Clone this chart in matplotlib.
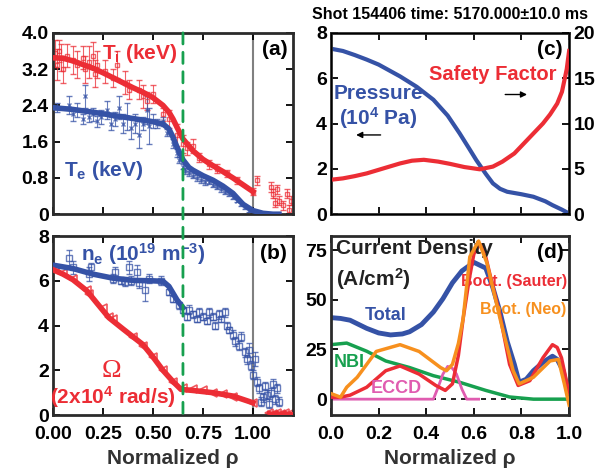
import matplotlib
matplotlib.use("Agg")
import matplotlib.pyplot as plt
from matplotlib.patches import ConnectionPatch

plt.rcParams['font.family'] = ['Liberation Sans', 'DejaVu Sans']
plt.rcParams['font.weight'] = 'bold'
plt.rcParams['axes.labelweight'] = 'bold'
plt.rcParams['axes.titleweight'] = 'bold'
plt.rcParams['mathtext.fontset'] = 'custom'
plt.rcParams['mathtext.rm'] = 'Liberation Sans:bold'
plt.rcParams['mathtext.it'] = 'Liberation Sans:bold'
plt.rcParams['mathtext.bf'] = 'Liberation Sans:bold'
plt.rcParams['mathtext.default'] = 'rm'

RED = '#ec2d35'
BLUE = '#3552a6'
GREEN = '#17a04f'
ORANGE = '#f7901e'
MAGENTA = '#e05cb0'
GRAY = '#2b2b2b'

# ---- panel (a): temperatures ----
ti_rho = [0.01, 0.02, 0.03, 0.04, 0.05, 0.07, 0.10, 0.12, 0.15, 0.16, 0.18, 0.20, 0.21, 0.22,
          0.26, 0.30, 0.32, 0.36, 0.38, 0.43, 0.45, 0.47, 0.50, 0.55, 0.58, 0.62, 0.65, 0.67,
          0.70, 0.73, 0.78, 0.82, 0.87, 0.92, 1.00, 1.02, 1.09, 1.10, 1.11, 1.12, 1.13, 1.15,
          1.17, 1.18, 1.19]
ti_val = [3.55, 3.30, 3.60, 3.45, 3.20, 3.50, 3.40, 3.30, 3.45, 3.20, 3.35, 3.50, 3.10, 3.30,
          3.15, 3.00, 3.30, 2.90, 2.75, 2.75, 2.60, 2.50, 2.65, 2.20, 2.10, 1.75, 1.55, 1.45,
          1.50, 1.25, 1.10, 1.00, 0.90, 0.75, 0.50, 0.75, 0.60, 0.45, 0.25, 0.55, 0.30, 0.20,
          0.45, 0.10, 0.30]
ti_err = [0.30, 0.35, 0.25, 0.30, 0.30, 0.25, 0.30, 0.30, 0.25, 0.30, 0.35, 0.30, 0.30, 0.30,
          0.25, 0.20, 0.30, 0.25, 0.20, 0.20, 0.25, 0.20, 0.20, 0.15, 0.20, 0.25, 0.20, 0.15,
          0.15, 0.10, 0.10, 0.10, 0.08, 0.08, 0.08, 0.10, 0.10, 0.10, 0.10, 0.10, 0.10, 0.10,
          0.10, 0.10, 0.10]
ti_fit_rho = [0.0, 0.05, 0.10, 0.15, 0.20, 0.25, 0.30, 0.35, 0.40, 0.45, 0.50, 0.55, 0.58, 0.60,
              0.62, 0.65, 0.70, 0.75, 0.80, 0.85, 0.90, 0.95, 1.00]
ti_fit = [3.45, 3.44, 3.38, 3.30, 3.22, 3.12, 3.01, 2.90, 2.79, 2.69, 2.57, 2.40, 2.25, 2.10,
          1.92, 1.66, 1.40, 1.21, 1.07, 0.94, 0.80, 0.65, 0.50]

te_rho = [0.02, 0.08, 0.10, 0.12, 0.15, 0.16, 0.18, 0.20, 0.22, 0.24, 0.27, 0.29, 0.31, 0.33,
          0.35, 0.37, 0.39, 0.41, 0.43, 0.45, 0.47, 0.48, 0.50, 0.52, 0.55, 0.57, 0.60, 0.62,
          0.63, 0.65, 0.66, 0.68, 0.70, 0.72, 0.74, 0.76, 0.78, 0.80, 0.82, 0.84, 0.86, 0.88,
          0.90, 0.92, 0.94, 0.96, 0.98, 1.00, 1.03, 1.06, 1.09, 1.12]
te_val = [2.35, 2.40, 2.20, 2.30, 2.10, 2.60, 2.15, 2.20, 2.05, 2.15, 2.30, 2.00, 2.10, 2.35,
          2.00, 2.15, 1.90, 2.00, 1.75, 2.00, 2.30, 1.95, 2.05, 2.00, 2.05, 1.80, 1.55, 1.35,
          1.20, 1.05, 0.95, 0.90, 0.85, 0.80, 0.75, 0.70, 0.72, 0.65, 0.60, 0.55, 0.50, 0.45,
          0.38, 0.30, 0.22, 0.15, 0.08, 0.05, 0.03, 0.02, 0.01, 0.00]
te_err = [0.10, 0.20, 0.15, 0.15, 0.10, 0.25, 0.12, 0.15, 0.12, 0.15, 0.20, 0.15, 0.15, 0.25,
          0.20, 0.30, 0.25, 0.20, 0.30, 0.15, 0.30, 0.40, 0.15, 0.10, 0.10, 0.08, 0.10, 0.08,
          0.06, 0.06, 0.06, 0.06, 0.06, 0.06, 0.06, 0.06, 0.06, 0.05, 0.05, 0.05, 0.05, 0.05,
          0.05, 0.04, 0.04, 0.03, 0.03, 0.03, 0.02, 0.02, 0.02, 0.02]
te_fit_rho = [0.0, 0.10, 0.20, 0.30, 0.40, 0.50, 0.55, 0.58, 0.60, 0.62, 0.65, 0.68, 0.70,
              0.75, 0.80, 0.85, 0.90, 0.95, 1.00, 1.05, 1.10, 1.13]
te_fit = [2.35, 2.31, 2.25, 2.18, 2.11, 2.04, 1.99, 1.88, 1.70, 1.48, 1.20, 1.03, 0.97,
          0.85, 0.75, 0.62, 0.46, 0.22, 0.08, 0.02, 0.0, 0.0]

# ---- panel (b): density and rotation ----
ne_rho = [0.08, 0.10, 0.18, 0.19, 0.30, 0.31, 0.34, 0.36, 0.38, 0.39, 0.42, 0.43, 0.46, 0.48,
          0.54, 0.58, 0.60, 0.63, 0.65, 0.67, 0.68, 0.70, 0.72, 0.73, 0.75, 0.77, 0.78, 0.80,
          0.81, 0.83, 0.84, 0.86, 0.87, 0.88, 0.90, 0.91, 0.93, 0.94, 0.96, 0.97, 0.98, 0.99,
          1.00, 1.01, 1.02, 1.03, 1.04, 1.05, 1.06, 1.07, 1.08, 1.09, 1.10, 1.11, 1.12, 1.13]
ne_val = [7.0, 6.6, 6.3, 6.6, 6.1, 6.4, 6.0, 5.95, 6.6, 6.0, 6.4, 5.9, 5.6, 6.1,
          6.0, 5.5, 5.2, 4.9, 4.7, 4.4, 4.7, 4.5, 4.3, 4.6, 4.4, 4.2, 4.6, 4.4,
          4.0, 4.5, 4.3, 4.6, 4.0, 3.8, 3.6, 3.3, 3.1, 3.5, 2.8, 2.5, 2.9, 2.2,
          1.8, 2.5, 1.5, 1.2, 0.6, 0.8, 1.3, 0.9, 0.5, 1.0, 1.4, 0.7, 1.2, 0.6]
ne_err = [0.4, 0.3, 0.3, 0.2, 0.2, 0.2, 0.15, 0.2, 0.3, 0.2, 0.3, 0.2, 0.5, 0.2,
          0.2, 0.15, 0.15, 0.15, 0.15, 0.15, 0.2, 0.15, 0.15, 0.2, 0.15, 0.15, 0.2, 0.15,
          0.15, 0.2, 0.15, 0.2, 0.15, 0.15, 0.2, 0.2, 0.2, 0.2, 0.2, 0.2, 0.3, 0.2,
          0.2, 0.3, 0.2, 0.2, 0.2, 0.2, 0.2, 0.2, 0.2, 0.2, 0.2, 0.2, 0.2, 0.2]
ne_fit_rho = [0.0, 0.10, 0.20, 0.30, 0.40, 0.50, 0.55, 0.58, 0.60, 0.62, 0.65]
ne_fit = [6.70, 6.55, 6.30, 6.12, 6.02, 6.00, 5.98, 5.75, 5.45, 5.15, 4.80]

om_rho = [0.01, 0.05, 0.10, 0.17, 0.18, 0.25, 0.28, 0.30, 0.40, 0.45, 0.50, 0.55, 0.60, 0.65,
          0.70, 0.75, 0.80, 0.85, 0.90, 1.00, 1.08, 1.10, 1.12, 1.14, 1.16, 1.18, 1.20]
om_val = [6.5, 6.35, 6.1, 5.6, 5.4, 4.8, 4.4, 4.3, 3.5, 3.1, 2.6, 2.0, 1.5, 1.2,
          1.15, 1.1, 1.0, 0.95, 0.8, 0.55, 0.1, 0.05, 0.1, 0.05, 0.1, 0.05, 0.05]
om_fit_rho = [0.0, 0.05, 0.10, 0.17, 0.22, 0.28, 0.35, 0.45, 0.50, 0.55, 0.60, 0.64, 0.70,
              0.80, 0.90, 1.00]
om_fit = [6.50, 6.30, 6.05, 5.55, 5.00, 4.35, 3.85, 3.15, 2.60, 2.00, 1.50, 1.15, 1.10,
          1.00, 0.85, 0.55]

# ---- panel (c): pressure and safety factor ----
p_rho = [0.0, 0.05, 0.10, 0.15, 0.20, 0.29, 0.36, 0.43, 0.49, 0.54, 0.58, 0.61, 0.65, 0.68,
         0.71, 0.74, 0.80, 0.85, 0.90, 0.93, 0.97, 1.00]
p_val = [7.30, 7.20, 7.02, 6.82, 6.60, 6.08, 5.62, 5.05, 4.35, 3.57, 2.90, 2.39, 1.78, 1.36,
         1.12, 0.99, 0.88, 0.77, 0.57, 0.40, 0.20, 0.03]
q_rho = [0.0, 0.05, 0.10, 0.15, 0.22, 0.29, 0.34, 0.39, 0.45, 0.50, 0.56, 0.625, 0.68, 0.72,
         0.77, 0.81, 0.85, 0.89, 0.92, 0.95, 0.97, 0.99, 1.00]
q_val = [3.8, 3.95, 4.2, 4.5, 5.05, 5.6, 5.9, 6.0, 5.8, 5.55, 5.2, 4.95, 5.25, 5.8,
         6.7, 7.8, 8.9, 10.0, 11.0, 12.2, 13.5, 16.0, 18.0]

# ---- panel (d): current density ----
tot_rho = [0.0, 0.04, 0.08, 0.15, 0.20, 0.25, 0.30, 0.33, 0.38, 0.43, 0.47, 0.51, 0.55, 0.60,
           0.65, 0.68, 0.71, 0.74, 0.77, 0.79, 0.82, 0.85, 0.89, 0.93, 0.95, 0.975, 1.0]
tot_val = [41.0, 40.6, 39.7, 35.6, 33.3, 32.3, 32.8, 33.9, 37.5, 43.8, 50.5, 58.5, 64.5, 68.8,
           65.9, 56.0, 43.8, 29.0, 17.5, 8.5, 10.0, 14.3, 18.5, 21.6, 20.0, 14.3, 0.3]
sau_rho = [0.0, 0.04, 0.08, 0.15, 0.23, 0.29, 0.37, 0.44, 0.48, 0.51, 0.535, 0.555, 0.58, 0.60,
           0.625, 0.645, 0.667, 0.71, 0.75, 0.786, 0.835, 0.89, 0.93, 0.95, 0.968, 1.0]
sau_val = [1.0, 1.0, 2.0, 6.0, 14.3, 16.7, 12.6, 6.9, 4.4, 7.7, 22.0, 40.5, 60.0, 73.0,
           78.0, 74.0, 63.0, 42.0, 17.5, 6.9, 9.3, 20.8, 27.4, 26.0, 20.8, 2.8]
neo_rho = [0.0, 0.04, 0.066, 0.11, 0.19, 0.29, 0.37, 0.46, 0.485, 0.51, 0.535, 0.555, 0.583,
           0.62, 0.655, 0.71, 0.765, 0.79, 0.85, 0.92, 0.955, 0.98, 1.0]
neo_val = [2.8, 1.0, 6.0, 11.0, 24.0, 27.4, 24.0, 15.9, 14.3, 17.5, 28.0, 40.5, 71.6,
           79.5, 68.4, 40.5, 14.3, 7.7, 11.0, 19.2, 20.0, 7.7, -3.0]
nbi_rho = [0.0, 0.066, 0.15, 0.23, 0.33, 0.43, 0.54, 0.65, 0.75, 0.85, 1.0]
nbi_val = [27.4, 28.2, 24.1, 19.2, 15.9, 11.8, 8.5, 4.4, 1.1, 0.0, 0.0]
ec_rho = [0.0, 0.43, 0.45, 0.47, 0.49, 0.51, 0.527, 0.55, 0.57, 0.62]
ec_val = [0.0, 0.0, 6.0, 12.6, 16.5, 15.5, 12.6, 5.0, 0.0, 0.0]

fig = plt.figure(figsize=(6.09, 4.76), dpi=100)
ax_a = fig.add_axes([0.087, 0.550, 0.394, 0.381])
ax_b = fig.add_axes([0.087, 0.128, 0.394, 0.376])
ax_c = fig.add_axes([0.5435, 0.550, 0.391, 0.381])
ax_d = fig.add_axes([0.5435, 0.128, 0.391, 0.376])


def style(ax, right=True):
    for s in ax.spines.values():
        s.set_linewidth(2)
        s.set_color(GRAY)
    ax.tick_params(direction='in', top=True, right=right, length=5, width=1.3,
                   labelsize=14, colors='black', pad=3)


# (a)
ax_a.errorbar(ti_rho, ti_val, yerr=ti_err, fmt='s', ms=3, mfc='none', mec=RED, ecolor=RED,
              elinewidth=0.8, capsize=2, alpha=0.75, zorder=2)
ax_a.errorbar(te_rho, te_val, yerr=te_err, fmt='x', ms=3, mec=BLUE, ecolor=BLUE,
              elinewidth=0.8, capsize=2, alpha=0.75, zorder=2)
ax_a.plot(ti_fit_rho, ti_fit, color=RED, lw=4, zorder=3)
ax_a.plot(te_fit_rho, te_fit, color=BLUE, lw=4, zorder=3)
ax_a.axvline(1.0, color='#808080', lw=1.5, zorder=1)
ax_a.set_xlim(0, 1.2)
ax_a.set_ylim(0, 4.0)
ax_a.set_xticks([0, 0.25, 0.5, 0.75, 1.0])
ax_a.set_xticklabels([])
ax_a.set_yticks([0, 0.8, 1.6, 2.4, 3.2, 4.0])
ax_a.set_yticklabels(['0', '0.8', '1.6', '2.4', '3.2', '4.0'])
style(ax_a)
ax_a.text(0.36, 0.885, r'T$_\mathregular{i}$ (keV)', transform=ax_a.transAxes, color=RED,
          fontsize=15, ha='center', va='center')
ax_a.text(0.21, 0.24, r'T$_\mathregular{e}$ (keV)', transform=ax_a.transAxes, color=BLUE,
          fontsize=15, ha='center', va='center')
ax_a.text(0.925, 0.91, '(a)', transform=ax_a.transAxes, color='black', fontsize=15,
          ha='center', va='center')

# (b)
ax_b.errorbar(ne_rho, ne_val, yerr=ne_err, fmt='s', ms=4, mfc='none', mec=BLUE, ecolor=BLUE,
              elinewidth=0.8, capsize=2, alpha=0.75, zorder=2)
ax_b.plot(om_rho, om_val, '<', ms=6, mfc='none', mec=RED, mew=1.2, alpha=0.8, zorder=2)
ax_b.plot(ne_fit_rho, ne_fit, color=BLUE, lw=4, zorder=3)
ax_b.plot(om_fit_rho, om_fit, color=RED, lw=4, zorder=3)
ax_b.plot(om_rho[-7:], om_val[-7:], color=RED, lw=3, zorder=3)
ax_b.axvline(1.0, color='#808080', lw=1.5, zorder=1)
ax_b.set_xlim(0, 1.2)
ax_b.set_ylim(0, 8)
ax_b.set_xticks([0, 0.25, 0.5, 0.75, 1.0])
ax_b.set_xticklabels(['0.00', '0.25', '0.50', '0.75', '1.00'])
ax_b.set_yticks([0, 2, 4, 6, 8])
style(ax_b)
ax_b.tick_params(axis='x', pad=8)
ax_b.set_xlabel('Normalized \u03c1', fontsize=15, color='#333333', labelpad=4)
ax_b.text(0.375, 0.90, r'n$_\mathregular{e}$ (10$^\mathregular{19}$ m$^\mathregular{-3}$)',
          transform=ax_b.transAxes, color=BLUE, fontsize=15, ha='center', va='center')
ax_b.text(0.245, 0.245, '\u03a9', transform=ax_b.transAxes, color=RED, fontsize=19,
          family='Liberation Serif', fontweight='normal', ha='center', va='center')
ax_b.text(0.25, 0.10, r'(2x10$^\mathregular{4}$ rad/s)', transform=ax_b.transAxes, color=RED,
          fontsize=15, ha='center', va='center')
ax_b.text(0.92, 0.90, '(b)', transform=ax_b.transAxes, color='black', fontsize=15,
          ha='center', va='center')

# green dashed line across (a) and (b)
con = ConnectionPatch(xyA=(0.65, 4.0), coordsA=ax_a.transData,
                      xyB=(0.65, 0.0), coordsB=ax_b.transData,
                      color=GREEN, lw=2, linestyle=(0, (4, 3)), zorder=5)
fig.add_artist(con)

# (c)
ax_c.plot(p_rho, p_val, color=BLUE, lw=3)
ax_c.set_xlim(0, 1)
ax_c.set_ylim(0, 8)
ax_c.set_yticks([0, 2, 4, 6, 8])
ax_c.set_xticks([0, 0.2, 0.4, 0.6, 0.8, 1.0])
ax_c.set_xticklabels([])
style(ax_c, right=False)
ax_c2 = ax_c.twinx()
ax_c2.plot(q_rho, q_val, color=RED, lw=3)
ax_c2.set_ylim(0, 20)
ax_c2.set_yticks([0, 5, 10, 15, 20])
ax_c2.tick_params(direction='in', length=5, width=1.3, labelsize=14, pad=3)
ax_c.set_title('Shot 154406 time: 5170.000\u00b110.0 ms', fontsize=11.5, pad=10)
ax_c.text(0.68, 0.77, 'Safety Factor', transform=ax_c.transAxes, color=RED, fontsize=14.5,
          ha='center', va='center')
ax_c.text(0.2, 0.59, 'Pressure\n(10$^\\mathregular{4}$ Pa)', transform=ax_c.transAxes,
          color=BLUE, fontsize=15, ha='center', va='center', linespacing=1.1)
ax_c.annotate('', xy=(0.094, 0.437), xytext=(0.22, 0.437), xycoords='axes fraction',
              arrowprops=dict(arrowstyle='-|>', color='black', lw=1, mutation_scale=9))
ax_c.annotate('', xy=(0.835, 0.66), xytext=(0.72, 0.66), xycoords='axes fraction',
              arrowprops=dict(arrowstyle='-|>', color='black', lw=1, mutation_scale=9))
ax_c.text(0.92, 0.91, '(c)', transform=ax_c.transAxes, color='black', fontsize=15,
          ha='center', va='center')

# (d)
ax_d.axhline(0, color='black', lw=1.2, linestyle=(0, (3, 3)), zorder=1)
ax_d.plot(tot_rho, tot_val, color=BLUE, lw=3.5, zorder=2)
ax_d.plot(nbi_rho, nbi_val, color=GREEN, lw=2.5, zorder=2)
ax_d.plot(ec_rho, ec_val, color=MAGENTA, lw=2, zorder=2)
ax_d.plot(sau_rho, sau_val, color=RED, lw=2.5, zorder=3)
ax_d.plot(neo_rho, neo_val, color=ORANGE, lw=2.5, zorder=4)
ax_d.set_xlim(0, 1)
ax_d.set_ylim(-8, 82)
ax_d.set_xticks([0, 0.2, 0.4, 0.6, 0.8, 1.0])
ax_d.set_yticks([0, 25, 50, 75])
style(ax_d)
ax_d.tick_params(axis='x', pad=8)
ax_d.set_xlabel('Normalized \u03c1', fontsize=15, color='#333333', labelpad=4)
ax_d.text(0.02, 0.985, 'Current Density', transform=ax_d.transAxes, color='#222222',
          fontsize=15, ha='left', va='top')
ax_d.text(0.02, 0.83, '(A/cm$^\\mathregular{2}$)', transform=ax_d.transAxes,
          color='#222222', fontsize=15, ha='left', va='top')
ax_d.text(0.92, 0.91, '(d)', transform=ax_d.transAxes, color='black', fontsize=15,
          ha='center', va='center')
ax_d.text(0.23, 42, 'Total', color=BLUE, fontsize=13, ha='center', va='center')
ax_d.text(0.075, 18.5, 'NBI', color=GREEN, fontsize=13, ha='center', va='center')
ax_d.text(0.275, 5.5, 'ECCD', color=MAGENTA, fontsize=13, ha='center', va='center')
ax_d.text(0.99, 59, 'Boot. (Sauter)', color=RED, fontsize=11.5, ha='right', va='center')
ax_d.text(0.99, 45, 'Boot. (Neo)', color=ORANGE, fontsize=11.5, ha='right', va='center')

fig.savefig('out.png', dpi=100)
